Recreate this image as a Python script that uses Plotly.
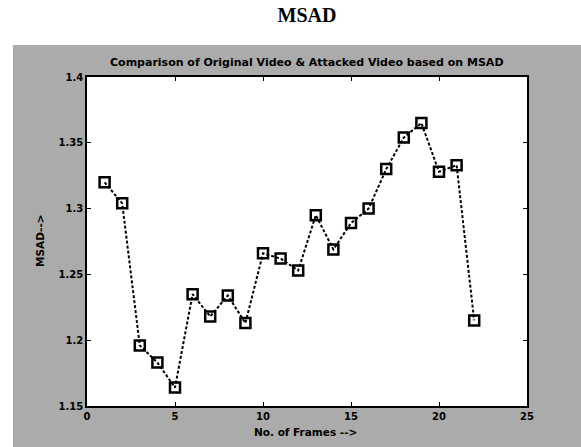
import plotly.graph_objects as go

# MSAD per frame, original vs. attacked video
frames = list(range(1, 23))
msad = [1.320, 1.304, 1.196, 1.183, 1.164, 1.235, 1.218, 1.234, 1.213, 1.266, 1.262,
        1.253, 1.295, 1.269, 1.289, 1.300, 1.330, 1.354, 1.365, 1.328, 1.333, 1.215]

x_ticks = [0, 5, 10, 15, 20, 25]
y_ticks = [1.15, 1.2, 1.25, 1.3, 1.35, 1.4]

W, H = 581, 447
L, R, T, B = 87, 54, 77, 41
GRAY = "#ababab"
SANS = "DejaVu Sans, Verdana, sans-serif"
TICK_FONT = dict(family=SANS, size=10, color="black", weight="bold")

fig = go.Figure()
fig.add_trace(go.Scatter(
    x=frames, y=msad, mode="lines+markers",
    line=dict(color="black", width=2, dash="3px,2px"),
    marker=dict(symbol="square-open", size=10, color="black",
                line=dict(color="black", width=2.5)),
    showlegend=False,
))

axis_common = dict(
    showgrid=False, zeroline=False, showline=True, linecolor="black", linewidth=1.5,
    mirror="ticks", ticks="inside", ticklen=4, tickwidth=1.2, tickcolor="black",
    tickfont=TICK_FONT,
)
fig.update_xaxes(range=[0, 25], tickvals=x_ticks, ticktext=[str(v) for v in x_ticks], **axis_common)
fig.update_yaxes(range=[1.15, 1.4], tickvals=y_ticks, ticktext=[f"{v:g}" for v in y_ticks], **axis_common)

pw, ph = W - L - R, H - T - B
def px_x(p):
    return (p - L) / pw
def px_y(p):
    return (H - B - p) / ph

label_font = dict(family=SANS, size=10.5, color="black")

fig.update_layout(
    width=W, height=H,
    margin=dict(l=L, r=R, t=T, b=B),
    paper_bgcolor=GRAY, plot_bgcolor="white",
    title=dict(text="<b>MSAD</b>", x=0.5, xref="paper", xanchor="center",
               y=1 - 15 / H, yref="container", yanchor="middle",
               font=dict(family="Liberation Serif, Times New Roman, serif", size=20, color="black")),
    shapes=[
        # white page around the grey figure window
        dict(type="rect", xref="paper", yref="paper", layer="below",
             x0=px_x(0), x1=px_x(W), y0=px_y(45), y1=px_y(0),
             fillcolor="white", line=dict(width=0)),
        dict(type="rect", xref="paper", yref="paper", layer="below",
             x0=px_x(0), x1=px_x(13), y0=px_y(H), y1=px_y(45),
             fillcolor="white", line=dict(width=0)),
    ],
    annotations=[
        dict(text="<b>Comparison of Original Video &amp; Attacked Video based on MSAD</b>",
             xref="paper", yref="paper", x=0.5, y=px_y(62), xanchor="center", yanchor="middle",
             showarrow=False, font=dict(family=SANS, size=11, color="black")),
        dict(text="<b>No. of Frames --></b>", xref="paper", yref="paper",
             x=px_x(305), y=px_y(432), xanchor="center", yanchor="middle",
             showarrow=False, font=label_font),
        dict(text="<b>MSAD--></b>", xref="paper", yref="paper", textangle=-90,
             x=px_x(40), y=px_y(241), xanchor="center", yanchor="middle",
             showarrow=False, font=label_font),
    ],
)

fig.write_html("out.html")
